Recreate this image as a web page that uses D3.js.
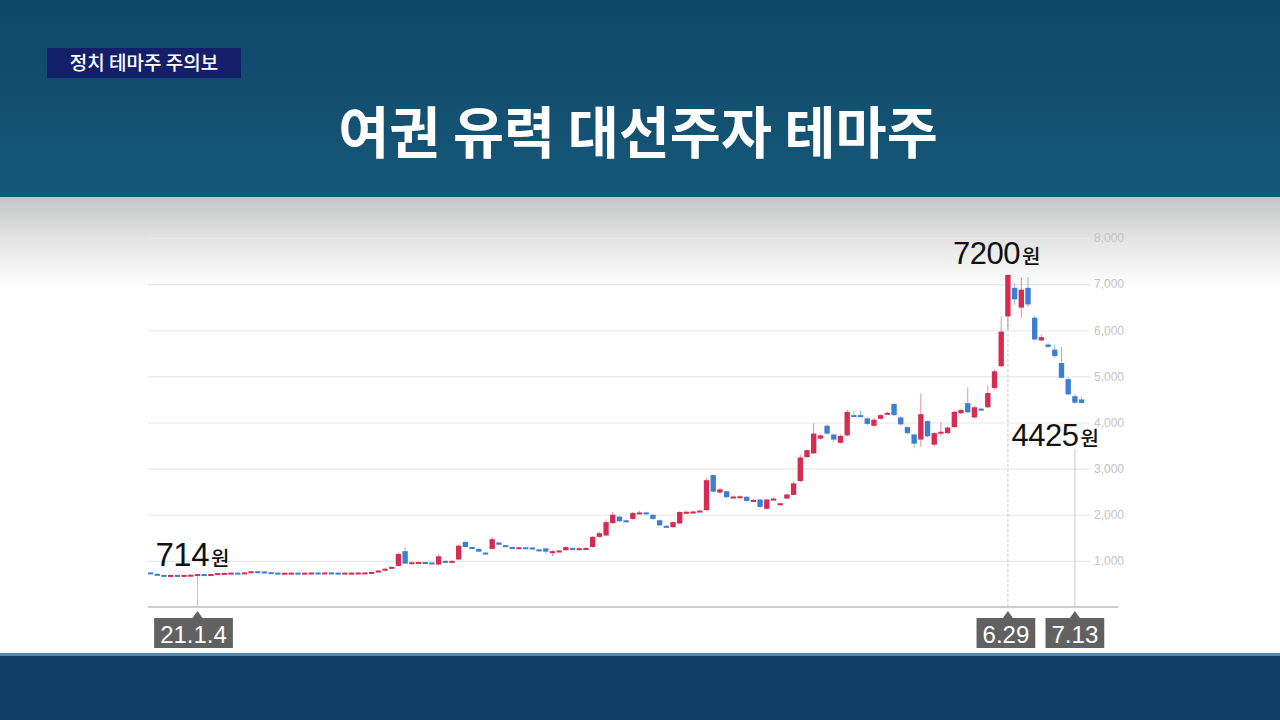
<!DOCTYPE html>
<html><head><meta charset="utf-8">
<script src="https://cdn.jsdelivr.net/npm/d3@7"></script>
<style>html,body{margin:0;padding:0;background:#fff;}svg{display:block;}</style>
</head><body>
<svg id="chart" width="1280" height="720"></svg>
<script>
// ---- data (OHLC, trading-day index 0..139) ----
const openV = [
 750,720,695,690,695,690,695,700,714,710,
 715,735,740,745,740,750,775,770,755,745,
 740,742,745,740,745,748,745,750,745,742,
 745,745,748,750,760,790,830,890,1210,960,
 970,975,965,920,1000,980,1030,1410,1300,1260,
 1180,1260,1400,1340,1300,1290,1295,1290,1250,1270,
 1200,1215,1230,1280,1270,1270,1300,1520,1550,1820,
 1960,1880,1910,2040,2050,2000,1880,1760,1730,1810,
 2060,2065,2080,2100,2860,2480,2510,2380,2395,2390,
 2300,2330,2130,2340,2230,2350,2430,2730,3250,3330,
 3650,3930,3740,3560,3720,4160,4160,4090,3930,4080,
 4190,4400,4110,3900,3740,3630,4030,3520,3780,3770,
 3900,4200,4420,4110,4300,4330,4750,5220,6300,6920,
 6490,6920,6270,5780,5690,5580,5290,4940,4570,4500];
const closeV = [
 735,690,690,695,690,695,700,714,710,715,
 735,740,745,740,750,775,770,755,745,740,
 742,745,740,745,748,745,750,745,742,745,
 745,748,750,760,790,830,870,1150,940,970,
 975,965,940,1100,980,1000,1330,1300,1270,1200,
 1170,1470,1350,1330,1290,1295,1290,1280,1235,1200,
 1210,1225,1300,1270,1275,1280,1520,1600,1840,2000,
 1860,1870,2040,2050,2030,1910,1770,1750,1840,2060,
 2065,2070,2090,2750,2500,2550,2380,2395,2400,2300,
 2320,2170,2330,2350,2250,2440,2680,3240,3400,3760,
 3720,3760,3630,3710,4230,4150,4150,3970,4060,4160,
 4210,4160,3960,3770,3540,4180,3700,3770,3800,3890,
 4230,4270,4220,4330,4280,4640,5110,5970,7200,6670,
 6880,6560,5800,5850,5640,5440,4970,4610,4430,4425];
const highV = [
 755,725,700,698,698,698,702,718,716,718,
 738,742,748,748,752,780,778,772,758,748,
 745,748,748,748,750,750,752,752,748,748,
 748,750,752,765,795,840,880,1180,1300,985,
 985,980,970,1150,1010,1010,1350,1440,1310,1270,
 1190,1510,1410,1345,1310,1300,1300,1295,1260,1280,
 1230,1235,1320,1290,1285,1290,1540,1630,1900,2060,
 1980,1900,2060,2080,2070,2010,1900,1780,1860,2080,
 2080,2090,2110,2800,2880,2580,2520,2420,2420,2400,
 2340,2340,2350,2380,2260,2460,2720,3300,3420,3980,
 3740,3960,3760,3740,4280,4250,4260,4110,4100,4180,
 4240,4420,4130,3920,3760,4620,4050,3800,4000,3920,
 4260,4300,4760,4360,4320,4800,5150,6300,7200,7020,
 7140,7150,6320,5900,5720,5690,5640,4980,4620,4560];
const lowV = [
 730,685,685,688,685,688,695,698,705,708,
 712,732,738,736,738,748,765,750,740,735,
 738,740,736,738,742,742,743,742,738,740,
 740,742,745,748,755,785,825,880,930,950,
 960,955,925,900,970,970,1020,1290,1260,1190,
 1150,1250,1330,1320,1280,1280,1280,1270,1200,1150,
 1100,1200,1220,1250,1260,1260,1290,1500,1540,1800,
 1840,1850,1890,2020,2020,1890,1750,1730,1720,1790,
 2040,2050,2060,2090,2480,2460,2360,2370,2380,2280,
 2280,2150,2110,2320,2200,2340,2420,2710,3230,3320,
 3630,3740,3580,3540,3700,4120,4120,3940,3900,4060,
 4170,4140,3930,3740,3440,3470,3680,3480,3700,3750,
 3880,4180,4200,4090,4260,4310,4720,5200,6020,6550,
 6270,6500,5780,5760,5620,5400,4950,4590,4400,4400];

const yTicks = [1000,2000,3000,4000,5000,6000,7000,8000];
const dateTickIdx = [7, 128, 138];
const dateTickLabels = ["21.1.4", "6.29", "7.13"];
const priceNotes = [
  {idx: 7, value: 714, text: "714"},
  {idx: 128, value: 7200, text: "7200"},
  {idx: 139, value: 4425, text: "4425"}
];
const tagText = "정치 테마주 주의보";
const titleText = "여권 유력 대선주자 테마주";

// ---- drawing ----
const svg = d3.select("#chart");
const defs = svg.append("defs");
const gTop = defs.append("linearGradient").attr("id","gTop").attr("x1",0).attr("y1",0).attr("x2",0).attr("y2",1);
gTop.append("stop").attr("offset","0%").attr("stop-color","#0f4667");
gTop.append("stop").attr("offset","100%").attr("stop-color","#165878");
const gMid = defs.append("linearGradient").attr("id","gMid").attr("x1",0).attr("y1",0).attr("x2",0).attr("y2",1);
gMid.append("stop").attr("offset","0").attr("stop-color","#c4c5c6");
gMid.append("stop").attr("offset","0.1").attr("stop-color","#e6e6e6");
gMid.append("stop").attr("offset","0.2").attr("stop-color","#ffffff");
gMid.append("stop").attr("offset","1").attr("stop-color","#ffffff");

svg.append("rect").attr("x",0).attr("y",0).attr("width",1280).attr("height",197).attr("fill","url(#gTop)");
svg.append("rect").attr("x",0).attr("y",197).attr("width",1280).attr("height",458).attr("fill","url(#gMid)");
svg.append("rect").attr("x",0).attr("y",655).attr("width",1280).attr("height",65).attr("fill","#0e3c62");
svg.append("rect").attr("x",0).attr("y",653).attr("width",1280).attr("height",3).attr("fill","#4f86b4");

// tag
svg.append("rect").attr("x",47).attr("y",48).attr("width",194).attr("height",30).attr("fill","#141f6a");
svg.append("text").attr("x",144).attr("y",70).attr("text-anchor","middle")
  .attr("font-family","'Noto Sans CJK KR', sans-serif").attr("font-size",19).attr("font-weight",500)
  .attr("fill","#fff").text(tagText);
// title
svg.append("text").attr("x",638).attr("y",153).attr("text-anchor","middle")
  .attr("font-family","'Noto Sans CJK KR', sans-serif").attr("font-size",55.5).attr("font-weight",700)
  .attr("fill","#fff").text(titleText);

const N = openV.length;
const x = d3.scaleBand().domain(d3.range(N)).range([146.6, 1085.6]).padding(0.2);
const cx = i => x(i) + x.bandwidth()/2;
const y = d3.scaleLinear().domain([0, 8000]).range([607, 238]);

// grid + y labels
const yAxis = d3.axisRight(y).tickValues(yTicks).tickSize(-(1090-148)).tickPadding(4)
  .tickFormat(d3.format(","));
const ga = svg.append("g").attr("transform","translate(1090,0)").call(yAxis);
ga.select(".domain").remove();
ga.selectAll(".tick line").attr("stroke","#e8e8e8").attr("stroke-width",1.2);
ga.selectAll(".tick text").attr("fill","#c4c4c4").attr("font-size",12)
  .attr("font-family","'Liberation Sans', Arial, sans-serif");
// baseline
svg.append("line").attr("x1",148).attr("x2",1118).attr("y1",y(0)).attr("y2",y(0))
  .attr("stroke","#bdbdbd").attr("stroke-width",1.5);

// guide lines for date ticks
const guideTop = [y(714)+2, y(7200)+4, y(4425)+46];
svg.selectAll(".guide").data(dateTickIdx).join("line").attr("class","guide")
  .attr("x1",d=>cx(d)).attr("x2",d=>cx(d))
  .attr("y1",(d,i)=>guideTop[i]).attr("y2",y(0))
  .attr("stroke","#c8c8c8").attr("stroke-width",1)
  .attr("stroke-dasharray",(d,i)=> i===1 ? "3,2" : null);

// candles
const idx = d3.range(N);
const up = i => closeV[i] >= openV[i];
const RED = "#d62c52", BLUE = "#3c7fd2";
const gc = svg.append("g");
gc.selectAll(".wick").data(idx).join("line").attr("class","wick")
  .attr("x1",cx).attr("x2",cx)
  .attr("y1",i=>y(highV[i])).attr("y2",i=>y(lowV[i]))
  .attr("stroke",i=>up(i)?RED:BLUE).attr("stroke-opacity",0.55).attr("stroke-width",1);
gc.selectAll(".body").data(idx).join("rect").attr("class","body")
  .attr("x",i=>x(i)).attr("width",x.bandwidth())
  .attr("y",i=>y(Math.max(openV[i],closeV[i])))
  .attr("height",i=>Math.max(2, Math.abs(y(openV[i])-y(closeV[i]))))
  .attr("fill",i=>up(i)?RED:BLUE);

// price notes
const notePos = [{dx:-42, dy:-8}, {dx:-55, dy:-11}, {dx:-70, dy:43}];
priceNotes.forEach((n,k)=>{
  const t = svg.append("text")
    .attr("x", cx(n.idx) + notePos[k].dx)
    .attr("y", y(n.value) + notePos[k].dy)
    .attr("fill","#111").attr("font-family","'Liberation Sans', Arial, sans-serif");
  t.append("tspan").attr("font-size", k===0?33:31).attr("letter-spacing",-0.5).text(n.text);
  t.append("tspan").attr("font-size",20).attr("dx",2)
    .attr("font-family","'Noto Sans CJK KR', sans-serif").attr("font-weight",500).text("원");
});

// date tick labels
const gd = svg.append("g");
dateTickIdx.forEach((d,i)=>{
  const g = gd.append("g");
  const t = g.append("text").attr("y",643).attr("text-anchor","middle")
    .attr("fill","#fff").attr("font-size",24)
    .attr("font-family","'Liberation Sans', Arial, sans-serif").text(dateTickLabels[i]);
  const w = t.node().getComputedTextLength() + 12;
  const c = i===0 ? cx(d) - 4 : (i===1 ? cx(d) - 2 : cx(d));
  t.attr("x", c);
  g.insert("rect","text").attr("x",c-w/2).attr("y",618).attr("width",w).attr("height",30).attr("fill","#616161");
  g.insert("path","text").attr("d",`M${cx(d)-5},618 L${cx(d)},611 L${cx(d)+5},618 Z`).attr("fill","#616161");
});
</script>
</body></html>
